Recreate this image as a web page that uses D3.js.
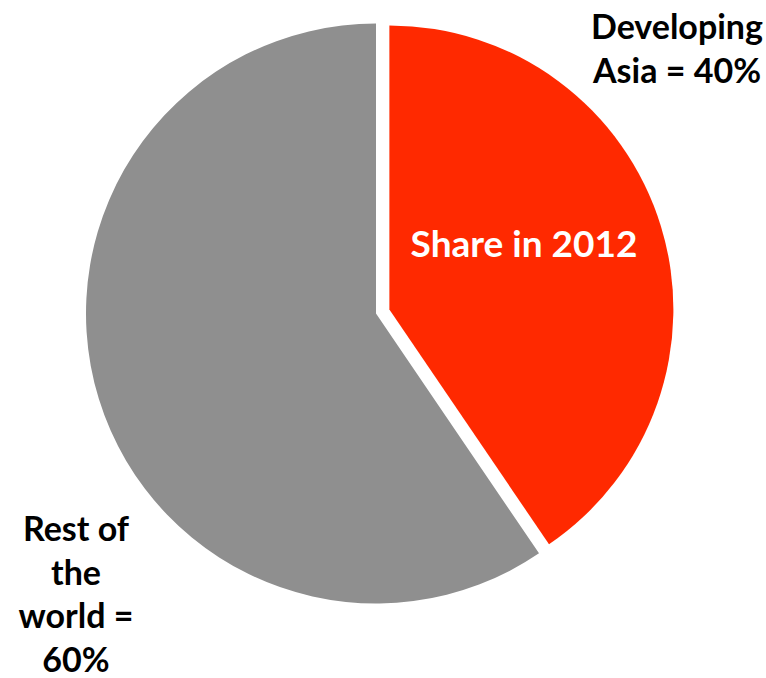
<!DOCTYPE html>
<html>
<head>
<meta charset="utf-8">
<script src="https://cdn.jsdelivr.net/npm/d3@7"></script>
<style>
  body { margin: 0; background: #fff; }
  text { font-family: Lato, "Open Sans", sans-serif; font-weight: bold; }
</style>
</head>
<body>
<div class="chart"></div>
<script>
// data
const regions = ['Developing Asia', 'Rest of the world'];
const shares = [40.5, 59.5];
const colors = ['#ff2900', '#8f8f8f'];
const outerLabels = [
  ['Developing', 'Asia = 40%'],
  ['Rest of', 'the', 'world =', '60%']
];
const innerLabel = 'Share in 2012';

const width = 766;
const height = 678;
const cx = 376, cy = 313.5;
const radius = 290;
const explode = 14; // red slice pulled out

const svg = d3.select('.chart').append('svg')
  .attr('width', width)
  .attr('height', height);

const g = svg.append('g')
  .attr('transform', `translate(${cx},${cy})`);

const pie = d3.pie()
  .sort(null)
  .value(d => d);

const arcs = pie(shares);

// the exploded slice is drawn a touch smaller, like the original
const arcFor = i => d3.arc().innerRadius(0).outerRadius(i === 0 ? radius - 6 : radius);

g.selectAll('.slice')
  .data(arcs)
  .enter().append('path')
  .attr('class', 'slice')
  .attr('d', (d, i) => arcFor(i)(d))
  .attr('fill', (d, i) => colors[i])
  .attr('transform', (d, i) => {
    if (i !== 0) return null;
    const mid = (d.startAngle + d.endAngle) / 2;
    return `translate(${Math.sin(mid) * explode},${-Math.cos(mid) * explode})`;
  });

// text inside the red slice
svg.append('text')
  .attr('x', 524)
  .attr('y', 257)
  .attr('text-anchor', 'middle')
  .attr('fill', '#fff')
  .style('font-size', '37px')
  .text(innerLabel);

// outside labels
const labelPos = [
  { x: 677, y: 39, step: 44 },
  { x: 76, y: 541, step: 43.5 }
];

outerLabels.forEach(function(lines, i) {
  const t = svg.append('text')
    .attr('text-anchor', 'middle')
    .attr('fill', '#000')
    .style('font-size', '34px');
  lines.forEach(function(line, j) {
    t.append('tspan')
      .attr('x', labelPos[i].x)
      .attr('y', labelPos[i].y + j * labelPos[i].step)
      .text(line);
  });
});
</script>
</body>
</html>
